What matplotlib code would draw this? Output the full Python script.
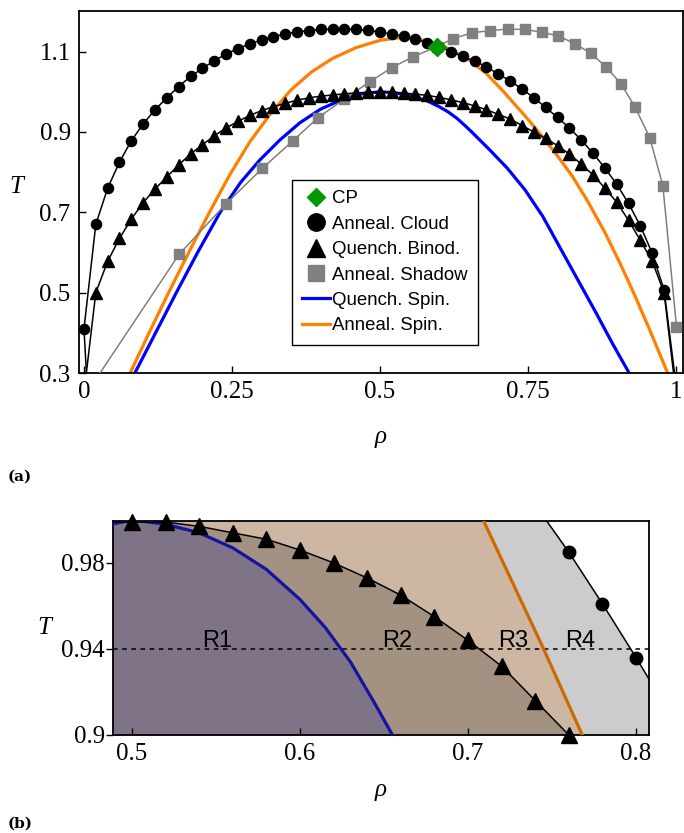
import matplotlib
matplotlib.use("Agg")
import matplotlib.pyplot as plt
from matplotlib.lines import Line2D
import numpy as np

# --- данные: плотность rho и температура T ---

# отожжённая "облачная" кривая (кружки)
cloud_rho = [0.0, 0.02, 0.04, 0.06, 0.08, 0.10, 0.12, 0.14, 0.16, 0.18,
             0.20, 0.22, 0.24, 0.26, 0.28, 0.30, 0.32, 0.34, 0.36, 0.38,
             0.40, 0.42, 0.44, 0.46, 0.48, 0.50, 0.52, 0.54, 0.56, 0.58,
             0.60, 0.62, 0.64, 0.66, 0.68, 0.70, 0.72, 0.74, 0.76, 0.78,
             0.80, 0.82, 0.84, 0.86, 0.88, 0.90, 0.92, 0.94, 0.96, 0.98]
cloud_T = [0.41, 0.67, 0.76, 0.825, 0.878, 0.92, 0.955, 0.985, 1.013, 1.038,
           1.058, 1.077, 1.094, 1.107, 1.119, 1.129, 1.137, 1.144, 1.149, 1.152,
           1.155, 1.156, 1.156, 1.155, 1.153, 1.148, 1.144, 1.138, 1.131, 1.122,
           1.112, 1.10, 1.088, 1.076, 1.062, 1.044, 1.027, 1.007, 0.985, 0.961,
           0.936, 0.91, 0.88, 0.847, 0.81, 0.77, 0.722, 0.666, 0.598, 0.507]
cloud_ends = ([0.006, 1.002], [0.25, 0.25])

# бинодаль после закалки (треугольники)
binod_rho = [0.02, 0.04, 0.06, 0.08, 0.10, 0.12, 0.14, 0.16, 0.18, 0.20,
             0.22, 0.24, 0.26, 0.28, 0.30, 0.32, 0.34, 0.36, 0.38, 0.40,
             0.42, 0.44, 0.46, 0.48, 0.50, 0.52, 0.54, 0.56, 0.58, 0.60,
             0.62, 0.64, 0.66, 0.68, 0.70, 0.72, 0.74, 0.76, 0.78, 0.80,
             0.82, 0.84, 0.86, 0.88, 0.90, 0.92, 0.94, 0.96, 0.98]
binod_T = [0.50, 0.578, 0.635, 0.683, 0.724, 0.758, 0.788, 0.818, 0.845, 0.868,
           0.89, 0.91, 0.926, 0.941, 0.953, 0.963, 0.971, 0.979, 0.985, 0.989,
           0.992, 0.995, 0.997, 0.999, 0.999, 0.999, 0.997, 0.994, 0.991, 0.986,
           0.98, 0.973, 0.965, 0.955, 0.944, 0.932, 0.916, 0.90, 0.884, 0.866,
           0.845, 0.82, 0.793, 0.76, 0.725, 0.68, 0.63, 0.578, 0.50]
binod_ends = ([0.0, 1.0], [0.25, 0.25])

# теневая кривая (серые квадраты)
shadow_rho = [0.161, 0.24, 0.301, 0.353, 0.395, 0.44, 0.483, 0.52, 0.556, 0.596,
              0.623, 0.656, 0.686, 0.716, 0.745, 0.774, 0.801, 0.829, 0.856, 0.882,
              0.907, 0.931, 0.956, 0.978, 1.001]
shadow_T = [0.596, 0.721, 0.809, 0.878, 0.935, 0.982, 1.025, 1.06, 1.087, 1.112,
            1.132, 1.147, 1.152, 1.156, 1.155, 1.148, 1.139, 1.12, 1.096, 1.062,
            1.02, 0.962, 0.885, 0.766, 0.415]
shadow_start = (0.0, 0.24)

# критическая точка
cp_rho, cp_T = 0.596, 1.112

# спинодаль после закалки
qspin_rho = [0.086, 0.121, 0.156, 0.192, 0.230, 0.265, 0.297, 0.331, 0.365, 0.40,
             0.44, 0.47, 0.50, 0.52, 0.54, 0.56, 0.58, 0.60, 0.615, 0.63,
             0.645, 0.655, 0.67, 0.685, 0.715, 0.745, 0.775, 0.805, 0.835,
             0.865, 0.893, 0.921]
qspin_T = [0.30, 0.40, 0.50, 0.60, 0.70, 0.775, 0.83, 0.88, 0.923, 0.957,
           0.983, 0.995, 1.0, 0.998, 0.994, 0.987, 0.977, 0.963, 0.95, 0.934,
           0.914, 0.90, 0.878, 0.856, 0.81, 0.756, 0.69, 0.61, 0.53,
           0.45, 0.373, 0.30]

# спинодаль после отжига
aspin_rho = [0.078, 0.110, 0.143, 0.177, 0.212, 0.245, 0.28, 0.315, 0.35, 0.385,
             0.42, 0.46, 0.50, 0.54, 0.58, 0.62, 0.65, 0.68, 0.709, 0.745,
             0.768, 0.795, 0.825, 0.852, 0.88, 0.905, 0.93, 0.955, 0.986]
aspin_T = [0.30, 0.40, 0.50, 0.60, 0.70, 0.79, 0.875, 0.945, 1.005, 1.05,
           1.083, 1.11, 1.128, 1.136, 1.127, 1.105, 1.08, 1.045, 1.0, 0.94,
           0.90, 0.85, 0.79, 0.725, 0.65, 0.575, 0.495, 0.41, 0.30]

region_names = ["R1", "R2", "R3", "R4"]
region_rho = [0.551, 0.658, 0.727, 0.767]
T_cut = 0.94

SERIF = "Liberation Serif"
SANS = "Liberation Sans"

fig = plt.figure(figsize=(6.84, 8.33), dpi=100)
ax1 = fig.add_axes([79 / 684, 1 - 373 / 833, 604 / 684, 362 / 833])
ax2 = fig.add_axes([113 / 684, 1 - 735 / 833, 536 / 684, 214 / 833])


def style_axes(ax, tick_dir_y):
    for s in ax.spines.values():
        s.set_linewidth(1.3)
    ax.tick_params(axis="x", direction="in", length=5, width=1, pad=6,
                   top=False, labelsize=18)
    ax.tick_params(axis="y", direction=tick_dir_y, length=5, width=1,
                   pad=6 if tick_dir_y == "in" else 1, right=False, labelsize=18)
    for lab in ax.get_xticklabels() + ax.get_yticklabels():
        lab.set_fontfamily(SERIF)


def axis_labels(ax, xy_T, xy_rho):
    ax.set_ylabel("T", family=SERIF, style="italic", fontsize=18, rotation=0,
                  va="center", ha="center")
    ax.yaxis.set_label_coords(*xy_T)
    ax.set_xlabel("ρ", family=SERIF, style="italic", fontsize=18, va="center")
    ax.xaxis.set_label_coords(*xy_rho)


# ---------- (a) фазовая диаграмма целиком ----------
ax1.plot(qspin_rho, qspin_T, color="#0000ff", lw=2.3, zorder=2)
ax1.plot(aspin_rho, aspin_T, color="#ff7f00", lw=2.3, zorder=2)

ax1.plot([shadow_start[0]] + shadow_rho, [shadow_start[1]] + shadow_T,
         color="#808080", lw=1.1, zorder=3)
ax1.plot(shadow_rho, shadow_T, ls="none", marker="s", ms=7.8,
         color="#808080", zorder=3)

b_r = [binod_ends[0][0]] + binod_rho + [binod_ends[0][1]]
b_t = [binod_ends[1][0]] + binod_T + [binod_ends[1][1]]
ax1.plot(b_r, b_t, color="black", lw=1.1, zorder=4)
ax1.plot(binod_rho, binod_T, ls="none", marker="^", ms=8.5, color="black", zorder=4)

c_r = [cloud_ends[0][0]] + cloud_rho + [cloud_ends[0][1]]
c_t = [cloud_ends[1][0]] + cloud_T + [cloud_ends[1][1]]
ax1.plot(c_r, c_t, color="black", lw=1.1, zorder=5)
ax1.plot(cloud_rho, cloud_T, ls="none", marker="o", ms=7.3, color="black", zorder=5)

ax1.plot([cp_rho], [cp_T], ls="none", marker="D", ms=9.5, color="#009a00", zorder=6)

ax1.set_xlim(-0.0084, 1.012)
ax1.set_ylim(0.3, 1.201)
ax1.set_xticks([0, 0.25, 0.5, 0.75, 1])
ax1.set_xticklabels(["0", "0.25", "0.5", "0.75", "1"])
ax1.set_yticks([0.3, 0.5, 0.7, 0.9, 1.1])
ax1.set_yticklabels(["0.3", "0.5", "0.7", "0.9", "1.1"])
style_axes(ax1, "in")
axis_labels(ax1, (-0.104, 0.514), (0.5, -0.177))

handles = [
    Line2D([], [], ls="none", marker="D", ms=9, color="#009a00"),
    Line2D([], [], ls="none", marker="o", ms=12.5, color="black"),
    Line2D([], [], ls="none", marker="^", ms=13.5, color="black"),
    Line2D([], [], ls="none", marker="s", ms=12, color="#808080"),
    Line2D([], [], color="#0000ff", lw=2.3),
    Line2D([], [], color="#ff7f00", lw=2.3),
]
labels = ["CP", "Anneal. Cloud", "Quench. Binod.", "Anneal. Shadow",
          "Quench. Spin.", "Anneal. Spin."]
leg = ax1.legend(handles, labels, loc="upper left", bbox_to_anchor=(0.353, 0.533),
                 borderaxespad=0, frameon=True, fancybox=False, framealpha=1,
                 edgecolor="black", handlelength=1.5, handletextpad=0.1,
                 labelspacing=0.45, borderpad=0.55,
                 prop={"family": SANS, "size": 13.4})
leg.get_frame().set_linewidth(1.0)
leg.set_zorder(10)

# ---------- (b) увеличенная область с зонами R1-R4 ----------
x_lo, x_hi = 0.4887, 0.8077
y_lo, y_hi = 0.9, 0.9995
T_grid = np.linspace(0.9, 1.0, 201)


def right_branch(rho, T, rho_min):
    r = np.array(rho)
    t = np.array(T)
    m = r >= rho_min
    r, t = r[m], t[m]
    order = np.argsort(t)
    return np.interp(T_grid, t[order], r[order])


def inside(rho, T):
    r = np.array(rho)
    t = np.array(T)
    m = (r >= x_lo) & (r <= x_hi) & (t >= y_lo - 1e-9) & (t <= y_hi + 1e-3)
    return r[m], t[m]


q_edge = right_branch(qspin_rho, qspin_T, 0.50)
b_edge = right_branch(binod_rho, binod_T, 0.50)
a_edge = right_branch(aspin_rho, aspin_T, 0.55)
c_edge = right_branch(cloud_rho, cloud_T, 0.45)

ax2.fill_betweenx(T_grid, x_lo - 0.01, q_edge, color="#7f7387", lw=0, zorder=1)
ax2.fill_betweenx(T_grid, q_edge, b_edge, color="#a39282", lw=0, zorder=1)
ax2.fill_betweenx(T_grid, b_edge, a_edge, color="#cdb6a2", lw=0, zorder=1)
ax2.fill_betweenx(T_grid, a_edge, c_edge, color="#cccccc", lw=0, zorder=1)

ax2.axhline(T_cut, color="black", lw=1.1, ls=(0, (3, 3)), zorder=2)

ax2.plot(qspin_rho, qspin_T, color="#1414a0", lw=2.3, zorder=3)
ax2.plot(aspin_rho, aspin_T, color="#cc6a00", lw=2.3, zorder=3)
ax2.plot(binod_rho, binod_T, color="black", lw=1.1, zorder=4)
ax2.plot(cloud_rho, cloud_T, color="black", lw=1.1, zorder=4)

tri_r, tri_t = inside(binod_rho, binod_T)
ax2.plot(tri_r, tri_t, ls="none", marker="^", ms=11.5, color="black",
         zorder=4, clip_on=False)
cir_r, cir_t = inside(cloud_rho, cloud_T)
ax2.plot(cir_r, cir_t, ls="none", marker="o", ms=9, color="black",
         zorder=4, clip_on=False)

for name, r in zip(region_names, region_rho):
    ax2.text(r, 0.941, name, ha="center", va="baseline", family=SANS,
             fontsize=17, zorder=5)

ax2.set_xlim(x_lo, x_hi)
ax2.set_ylim(y_lo, y_hi)
ax2.set_xticks([0.5, 0.6, 0.7, 0.8])
ax2.set_xticklabels(["0.5", "0.6", "0.7", "0.8"])
ax2.set_yticks([0.9, 0.94, 0.98])
ax2.set_yticklabels(["0.9", "0.94", "0.98"])
style_axes(ax2, "out")
axis_labels(ax2, (-0.129, 0.5), (0.5, -0.257))

fig.text(8 / 684, 1 - 477 / 833, "(a)", family="DejaVu Serif", weight="bold",
         fontsize=11, va="center")
fig.text(8 / 684, 1 - 824 / 833, "(b)", family="DejaVu Serif", weight="bold",
         fontsize=11, va="center")

fig.savefig("out.png", dpi=100)
